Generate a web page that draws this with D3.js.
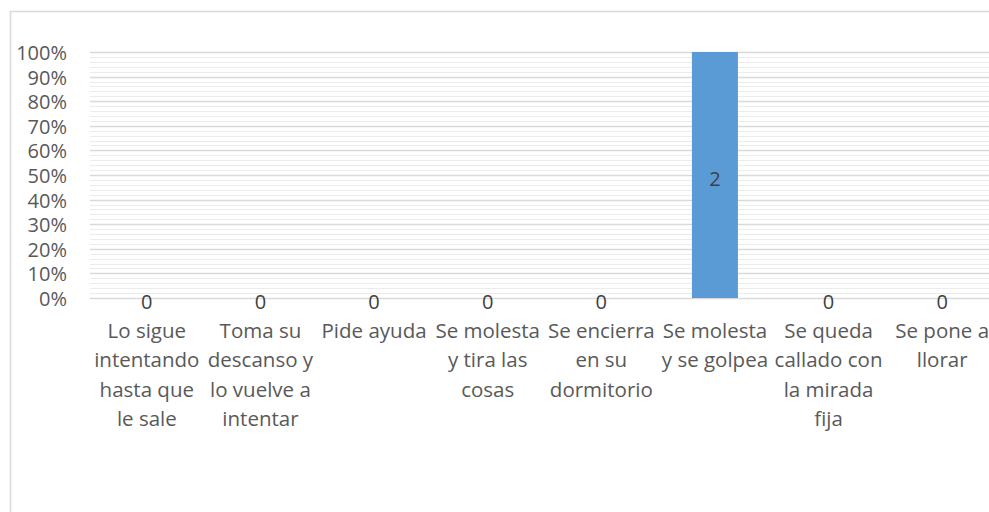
<!DOCTYPE html>
<html>
<head>
<meta charset="utf-8">
<script src="https://cdn.jsdelivr.net/npm/d3@7"></script>
<style>
  body { margin: 0; background: #fff; }
  text { font-family: "Open Sans", sans-serif; }
</style>
</head>
<body>
<div id="chart"></div>
<script>
// categories, line breaks as in the original chart
var categories = [
  "Lo sigue\nintentando\nhasta que\nle sale",
  "Toma su\ndescanso y\nlo vuelve a\nintentar",
  "Pide ayuda",
  "Se molesta\ny tira las\ncosas",
  "Se encierra\nen su\ndormitorio",
  "Se molesta\ny se golpea",
  "Se queda\ncallado con\nla mirada\nfija",
  "Se pone a\nllorar"
];
var counts = [0, 0, 0, 0, 0, 2, 0, 0];
var yTicks = [0, 0.1, 0.2, 0.3, 0.4, 0.5, 0.6, 0.7, 0.8, 0.9, 1];

var width = 989, height = 512;
var margin = {top: 52, left: 90, right: -10, bottom: 214};

var svg = d3.select("#chart")
  .append("svg")
    .attr("width", width)
    .attr("height", height);

svg.append("rect")
  .attr("width", width).attr("height", height)
  .attr("fill", "#fff");

// chart area border (runs off the right and bottom of the picture)
svg.append("rect")
  .attr("x", 10.5).attr("y", 11.5)
  .attr("width", 1200).attr("height", 800)
  .attr("fill", "none")
  .attr("stroke", "#d9d9d9")
  .attr("stroke-width", 1.5);

var x = d3.scaleBand()
  .domain(categories)
  .range([margin.left, width - margin.right])
  .paddingInner(0.595)
  .paddingOuter(0.2975);

var y = d3.scaleLinear()
  .domain([0, 1])
  .range([height - margin.bottom, margin.top]);

// minor gridlines every 2%
svg.append("g")
  .selectAll("line")
  .data(d3.range(1, 50).filter(function(i) { return i % 5 !== 0; }).map(function(i) { return i / 50; }))
  .enter().append("line")
    .attr("x1", margin.left).attr("x2", width - margin.right)
    .attr("y1", function(d) { return Math.round(y(d)) + 0.5; })
    .attr("y2", function(d) { return Math.round(y(d)) + 0.5; })
    .attr("stroke", "#ececec");

// major gridlines
svg.append("g")
  .selectAll("line")
  .data(yTicks)
  .enter().append("line")
    .attr("x1", margin.left).attr("x2", width - margin.right)
    .attr("y1", function(d) { return Math.round(y(d)) + 0.5; })
    .attr("y2", function(d) { return Math.round(y(d)) + 0.5; })
    .attr("stroke", "#d9d9d9")
    .attr("stroke-width", 1.5);

// y axis labels
svg.append("g")
  .selectAll("text")
  .data(yTicks)
  .enter().append("text")
    .attr("x", 67)
    .attr("y", function(d) { return y(d) + 8; })
    .attr("text-anchor", "end")
    .attr("font-size", 20)
    .attr("fill", "#595959")
    .text(d3.format(".0%"));

// 100% stacked: share of each category's total
var pct = counts.map(function(v) { return v > 0 ? 1 : 0; });

svg.append("g")
  .selectAll("rect")
  .data(categories)
  .enter().append("rect")
    .attr("x", function(d) { return x(d); })
    .attr("y", function(d, i) { return y(pct[i]); })
    .attr("width", x.bandwidth())
    .attr("height", function(d, i) { return y(0) - y(pct[i]); })
    .attr("fill", "#5b9bd5");

// data labels
svg.append("g")
  .selectAll("text")
  .data(categories)
  .enter().append("text")
    .attr("x", function(d) { return x(d) + x.bandwidth() / 2; })
    .attr("y", function(d, i) { return (y(0) + y(pct[i])) / 2 + 11; })
    .attr("text-anchor", "middle")
    .attr("font-size", 20)
    .attr("fill", "#404040")
    .text(function(d, i) { return counts[i]; });

// category labels
var cat = svg.append("g")
  .selectAll("text")
  .data(categories)
  .enter().append("text")
    .attr("text-anchor", "middle")
    .attr("font-size", 20.5)
    .attr("fill", "#595959");

cat.selectAll("tspan")
  .data(function(d) { return d.split("\n").map(function(s) { return {t: s, c: d}; }); })
  .enter().append("tspan")
    .attr("x", function(d) { return x(d.c) + x.bandwidth() / 2; })
    .attr("y", function(d, i) { return 338 + i * 29.4; })
    .text(function(d) { return d.t; });
</script>
</body>
</html>
